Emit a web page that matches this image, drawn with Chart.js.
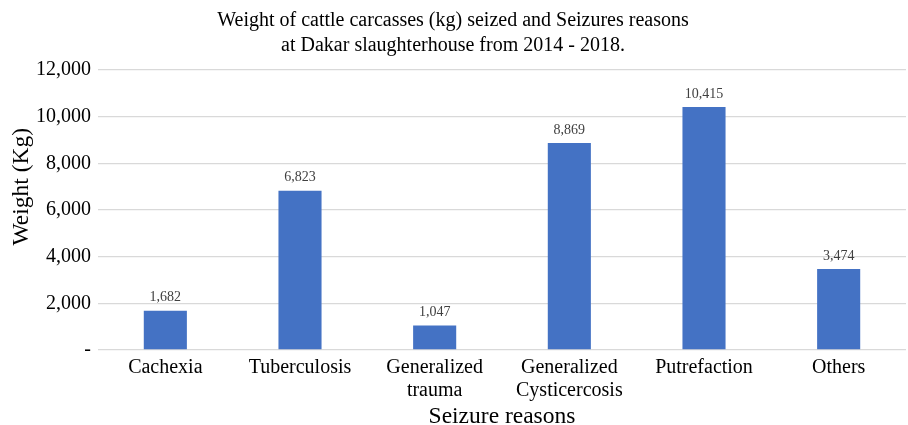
<!DOCTYPE html>
<html>
<head>
<meta charset="utf-8">
<script src="https://cdn.jsdelivr.net/npm/chart.js@4.4.0/dist/chart.umd.min.js"></script>
<style>
  html, body { margin: 0; padding: 0; background: #fff; }
  #wrap { width: 908px; height: 425px; }
</style>
</head>
<body>
<div id="wrap"><canvas id="myChart"></canvas></div>
<script>
'use strict';

let reasons = ['Cachexia', 'Tuberculosis', ['Generalized', 'trauma'], ['Generalized', 'Cysticercosis'], 'Putrefaction', 'Others'];
let weights = [1682, 6823, 1047, 8869, 10415, 3474];
let yTicks = [0, 2000, 4000, 6000, 8000, 10000, 12000];

let serif = "'Liberation Serif', 'Times New Roman', serif";

function fmt(v) {
  if (v === 0) return '-';
  return v.toLocaleString('en-US');
}

// draws the value above each bar, and the y axis title (sits a bit above centre in the original)
let valueLabels = {
  id: 'valueLabels',
  afterDatasetsDraw(chart) {
    let ctx = chart.ctx;
    let meta = chart.getDatasetMeta(0);
    ctx.save();
    ctx.font = '14px ' + serif;
    ctx.fillStyle = '#404040';
    ctx.textAlign = 'center';
    ctx.textBaseline = 'middle';
    meta.data.forEach(function (bar, i) {
      ctx.fillText(fmt(weights[i]), bar.x, bar.y - 13);
    });

    let yScale = chart.scales.y;
    ctx.translate(22, yScale.getPixelForValue(7000));
    ctx.rotate(-Math.PI / 2);
    ctx.font = '23.5px ' + serif;
    ctx.fillStyle = '#000';
    ctx.fillText('Weight (Kg)', 0, 0);
    ctx.restore();
  }
};

const data = {
  labels: reasons,
  datasets: [{
    label: 'Weight (Kg)',
    data: weights,
    backgroundColor: '#4472C4',
    borderWidth: 0,
    categoryPercentage: 1,
    barPercentage: 0.32
  }]
};

const config = {
  type: 'bar',
  data: data,
  options: {
    responsive: true,
    maintainAspectRatio: false,
    animation: false,
    layout: { padding: { left: 0, right: 2, top: 4, bottom: 0 } },
    plugins: {
      legend: { display: false },
      tooltip: { enabled: false },
      title: {
        display: true,
        text: ['Weight of cattle carcasses (kg) seized and Seizures reasons', 'at Dakar slaughterhouse from 2014 - 2018.'],
        color: '#000',
        font: { family: serif, size: 20, weight: 'normal', lineHeight: 1.25 },
        padding: { top: 4, bottom: 12 }
      }
    },
    scales: {
      x: {
        grid: { display: false, drawTicks: false },
        border: { display: false },
        afterFit(axis) { axis.height = 75; },
        ticks: {
          color: '#000',
          font: { family: serif, size: 20, lineHeight: 1.15 },
          maxRotation: 0,
          autoSkip: false,
          padding: 6
        },
        title: {
          display: true,
          text: 'Seizure reasons',
          color: '#000',
          font: { family: serif, size: 23.5, lineHeight: 1.0 },
          padding: { top: 0, bottom: -4 }
        }
      },
      y: {
        min: 0,
        max: 12000,
        afterBuildTicks(axis) {
          axis.ticks = yTicks.map(function (v) { return { value: v }; });
        },
        afterFit(axis) { axis.width = 98; },
        grid: { color: '#d9d9d9', lineWidth: 1.3, drawTicks: false },
        border: { display: false },
        ticks: {
          color: '#000',
          font: { family: serif, size: 20 },
          padding: 7,
          callback: function (v) { return fmt(v); }
        }
      }
    }
  },
  plugins: [valueLabels]
};

const myChart = new Chart(document.getElementById('myChart'), config);
</script>
</body>
</html>
